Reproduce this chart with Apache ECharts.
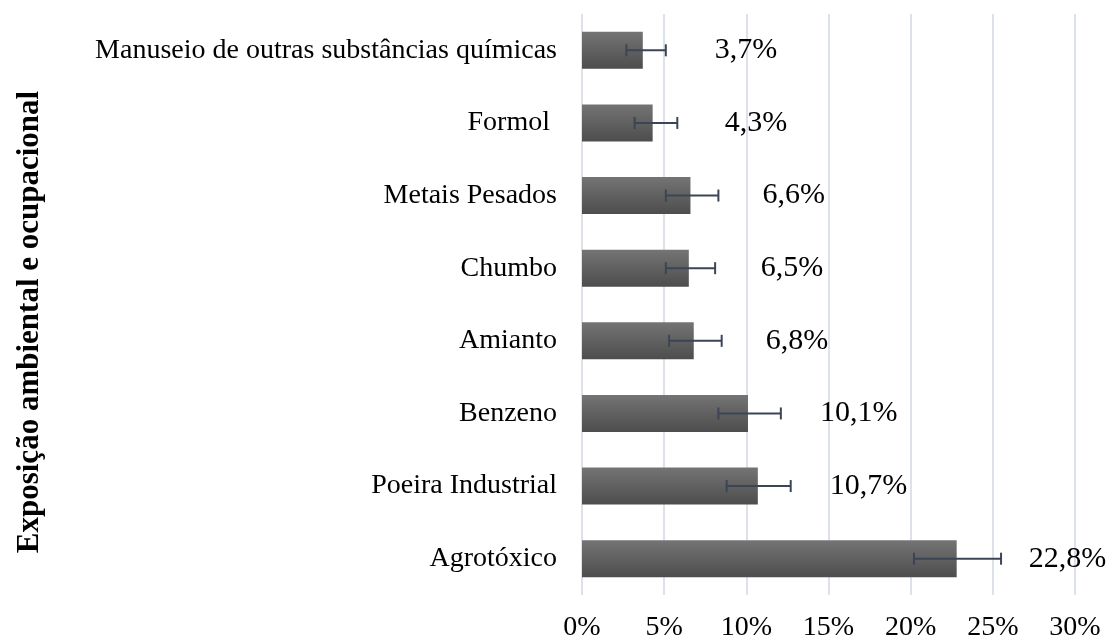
<!DOCTYPE html>
<html>
<head>
<meta charset="utf-8">
<script src="https://cdn.jsdelivr.net/npm/echarts@6/dist/echarts.min.js"></script>
<style>
  html, body { margin: 0; padding: 0; background: #fff; }
  #chart { width: 1112px; height: 643px; }
</style>
</head>
<body>
<div id="chart"></div>
<script>
// categories, bottom to top
var categories = ['Agrotóxico', 'Poeira Industrial', 'Benzeno', 'Amianto',
  'Chumbo', 'Metais Pesados', 'Formol ', 'Manuseio de outras substâncias químicas'];
var values = [22.8, 10.7, 10.1, 6.8, 6.5, 6.6, 4.3, 3.7];
var errLow = [20.2, 8.8, 8.3, 5.3, 5.1, 5.1, 3.2, 2.7];
var errHigh = [25.5, 12.7, 12.1, 8.5, 8.1, 8.3, 5.8, 5.1];
var xTicks = [0, 5, 10, 15, 20, 25, 30];

var font = '"Liberation Serif", "Times New Roman", serif';
var chart = echarts.init(document.getElementById('chart'));

var errData = categories.map(function(c, i) {
  return [i, errLow[i], errHigh[i]];
});

chart.setOption({
  animation: false,
  grid: { left: 582, right: 37, top: 14, bottom: 48 },
  xAxis: {
    type: 'value',
    min: xTicks[0],
    max: xTicks[xTicks.length - 1],
    interval: 5,
    axisLine: { show: false },
    axisTick: { show: false },
    axisLabel: {
      margin: 19,
      fontFamily: font,
      fontSize: 28,
      color: '#000',
      formatter: function(v) { return v + '%'; }
    },
    splitLine: { lineStyle: { color: '#dde2ea', width: 2 } }
  },
  yAxis: {
    type: 'category',
    data: categories,
    axisLine: { show: false },
    axisTick: { show: false },
    axisLabel: { margin: 25, fontFamily: font, fontSize: 28, color: '#000' }
  },
  graphic: [{
    type: 'text',
    x: 30,
    y: 322,
    rotation: Math.PI / 2,
    style: {
      text: 'Exposição ambiental e ocupacional',
      font: 'bold 31px ' + font,
      fill: '#000',
      align: 'center',
      verticalAlign: 'middle'
    }
  }],
  series: [{
    type: 'bar',
    data: values,
    barWidth: 37,
    itemStyle: {
      color: new echarts.graphic.LinearGradient(0, 0, 0, 1, [
        { offset: 0, color: '#747474' },
        { offset: 1, color: '#4d4d4d' }
      ])
    },
    label: {
      show: true,
      position: 'right',
      distance: 72,
      fontFamily: font,
      fontSize: 30,
      color: '#000',
      formatter: function(p) { return p.value.toFixed(1).replace('.', ',') + '%'; }
    }
  }, {
    type: 'custom',
    data: errData,
    z: 5,
    renderItem: function(params, api) {
      var y = api.value(0);
      var p1 = api.coord([api.value(1), y]);
      var p2 = api.coord([api.value(2), y]);
      var h = 6;
      var st = { stroke: '#3b4556', lineWidth: 2 };
      return {
        type: 'group',
        children: [
          { type: 'line', shape: { x1: p1[0], y1: p1[1], x2: p2[0], y2: p2[1] }, style: st },
          { type: 'line', shape: { x1: p1[0], y1: p1[1] - h, x2: p1[0], y2: p1[1] + h }, style: st },
          { type: 'line', shape: { x1: p2[0], y1: p2[1] - h, x2: p2[0], y2: p2[1] + h }, style: st }
        ]
      };
    },
    encode: { x: [1, 2], y: 0 }
  }]
});
</script>
</body>
</html>
